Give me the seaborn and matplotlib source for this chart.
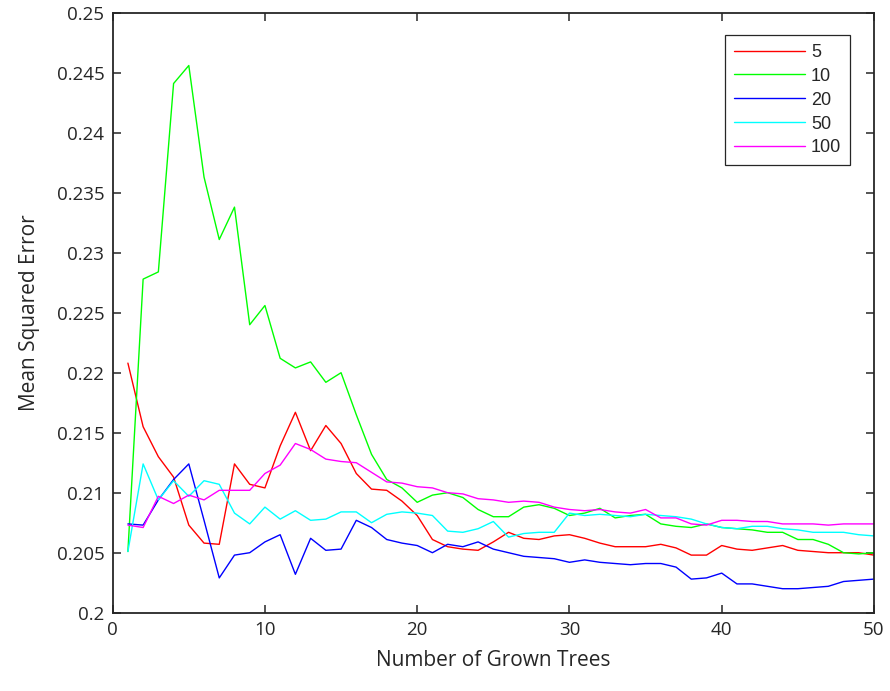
import numpy as np
import pandas as pd
import matplotlib
matplotlib.use("Agg")
import matplotlib.pyplot as plt
import seaborn as sns
from matplotlib.ticker import FuncFormatter

trees = list(range(1, 51))
labels = ["5", "10", "20", "50", "100"]
colors = ["#ff0000", "#00ff00", "#0000ff", "#00ffff", "#ff00ff"]

mse_5 = [0.2208, 0.2155, 0.2130, 0.2113, 0.2073, 0.2058, 0.2057, 0.2124, 0.2107, 0.2104,
         0.2139, 0.2167, 0.2135, 0.2156, 0.2141, 0.2116, 0.2103, 0.2102, 0.2093, 0.2081,
         0.2061, 0.2055, 0.2053, 0.2052, 0.2059, 0.2067, 0.2062, 0.2061, 0.2064, 0.2065,
         0.2062, 0.2058, 0.2055, 0.2055, 0.2055, 0.2057, 0.2054, 0.2048, 0.2048, 0.2056,
         0.2053, 0.2052, 0.2054, 0.2056, 0.2052, 0.2051, 0.2050, 0.2050, 0.2050, 0.2048]
mse_10 = [0.2051, 0.2278, 0.2284, 0.2441, 0.2456, 0.2363, 0.2311, 0.2338, 0.2240, 0.2256,
          0.2212, 0.2204, 0.2209, 0.2192, 0.2200, 0.2165, 0.2132, 0.2111, 0.2104, 0.2092,
          0.2098, 0.2100, 0.2096, 0.2086, 0.2080, 0.2080, 0.2088, 0.2090, 0.2087, 0.2081,
          0.2083, 0.2087, 0.2079, 0.2081, 0.2082, 0.2074, 0.2072, 0.2071, 0.2074, 0.2071,
          0.2070, 0.2069, 0.2067, 0.2067, 0.2061, 0.2061, 0.2057, 0.2050, 0.2049, 0.2050]
mse_20 = [0.2074, 0.2073, 0.2094, 0.2111, 0.2124, 0.2077, 0.2029, 0.2048, 0.2050, 0.2059,
          0.2065, 0.2032, 0.2062, 0.2052, 0.2053, 0.2077, 0.2071, 0.2061, 0.2058, 0.2056,
          0.2050, 0.2057, 0.2055, 0.2059, 0.2053, 0.2050, 0.2047, 0.2046, 0.2045, 0.2042,
          0.2044, 0.2042, 0.2041, 0.2040, 0.2041, 0.2041, 0.2038, 0.2028, 0.2029, 0.2033,
          0.2024, 0.2024, 0.2022, 0.2020, 0.2020, 0.2021, 0.2022, 0.2026, 0.2027, 0.2028]
mse_50 = [0.2051, 0.2124, 0.2094, 0.2110, 0.2097, 0.2110, 0.2107, 0.2083, 0.2074, 0.2088,
          0.2078, 0.2085, 0.2077, 0.2078, 0.2084, 0.2084, 0.2075, 0.2082, 0.2084, 0.2083,
          0.2081, 0.2068, 0.2067, 0.2070, 0.2076, 0.2063, 0.2066, 0.2067, 0.2067, 0.2083,
          0.2081, 0.2082, 0.2081, 0.2080, 0.2082, 0.2081, 0.2080, 0.2078, 0.2074, 0.2071,
          0.2070, 0.2072, 0.2072, 0.2070, 0.2069, 0.2067, 0.2067, 0.2067, 0.2065, 0.2064]
mse_100 = [0.2073, 0.2071, 0.2097, 0.2091, 0.2098, 0.2094, 0.2102, 0.2102, 0.2102, 0.2116,
           0.2123, 0.2141, 0.2136, 0.2128, 0.2126, 0.2125, 0.2117, 0.2109, 0.2108, 0.2105,
           0.2104, 0.2100, 0.2099, 0.2095, 0.2094, 0.2092, 0.2093, 0.2092, 0.2088, 0.2086,
           0.2085, 0.2086, 0.2084, 0.2083, 0.2086, 0.2079, 0.2079, 0.2074, 0.2073, 0.2077,
           0.2077, 0.2076, 0.2076, 0.2074, 0.2074, 0.2074, 0.2073, 0.2074, 0.2074, 0.2074]

series = [mse_5, mse_10, mse_20, mse_50, mse_100]

df = pd.concat([pd.DataFrame({"trees": trees, "mse": s, "leaf": lab})
                for lab, s in zip(labels, series)], ignore_index=True)

sns.set_style("white")
plt.rcParams["font.family"] = ["Open Sans", "DejaVu Sans"]

fig = plt.figure(figsize=(8.9, 6.91), dpi=100)
ax = fig.add_axes([0.1266, 0.1133, 0.8554, 0.8683])

sns.lineplot(data=df, x="trees", y="mse", hue="leaf", hue_order=labels,
             palette=dict(zip(labels, colors)), linewidth=1.0, ax=ax, legend=True)

ax.set_xlim(0, 50)
ax.set_ylim(0.2, 0.25)
ax.set_xticks([0, 10, 20, 30, 40, 50])
ax.set_yticks(np.round(np.arange(0.2, 0.2501, 0.005), 3))
ax.yaxis.set_major_formatter(FuncFormatter(lambda v, p: "%g" % round(v, 3)))

edge = "#262626"
for sp in ax.spines.values():
    sp.set_visible(True)
    sp.set_color(edge)
    sp.set_linewidth(1.3)
ax.tick_params(axis="both", which="both", direction="in", length=6, width=1.1,
               colors=edge, labelsize=13.5, top=True, right=True,
               bottom=True, left=True, pad=6)
ax.set_xlabel("Number of Grown Trees", fontsize=15, color=edge, labelpad=8)
ax.set_ylabel("Mean Squared Error", fontsize=15, color=edge, labelpad=12)

handles, labs = ax.get_legend_handles_labels()
leg = ax.legend(handles, labs, loc="upper right", bbox_to_anchor=(0.969, 0.963),
                borderaxespad=0, frameon=True, fancybox=False, shadow=False,
                handlelength=3.9, handletextpad=0.35,
                labelspacing=0.38, borderpad=0.5,
                prop={"family": ["Liberation Sans", "DejaVu Sans"], "size": 13})
leg.get_frame().set_edgecolor(edge)
leg.get_frame().set_linewidth(0.9)
leg.get_frame().set_alpha(1.0)
for line in leg.get_lines():
    line.set_linewidth(1.0)

fig.savefig("out.png", dpi=100)
